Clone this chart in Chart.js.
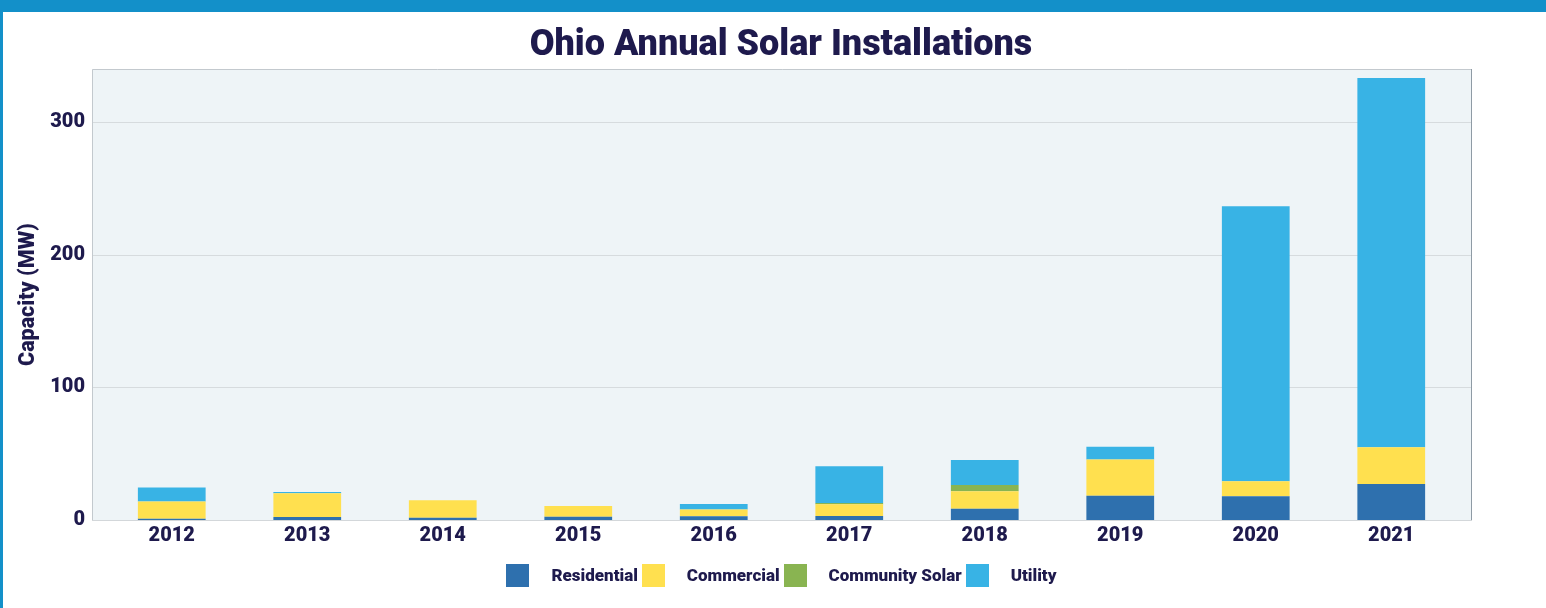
<!DOCTYPE html>
<html>
<head>
<meta charset="utf-8">
<title>Ohio Annual Solar Installations</title>
<script src="https://cdn.jsdelivr.net/npm/chart.js@4.4.1/dist/chart.umd.min.js"></script>
<style>
  html, body { margin: 0; padding: 0; background: #fff; }
  #frame {
    position: absolute; left: 0; top: 0;
    width: 1546px; height: 608px; box-sizing: border-box;
    border-top: 12px solid #1390c9; border-left: 3px solid #1390c9;
  }
  #wrap { position: relative; width: 1543px; height: 596px; }
</style>
</head>
<body>
<div id="frame"><div id="wrap"><canvas id="solarChart"></canvas></div></div>
<script>
const years = ['2012', '2013', '2014', '2015', '2016', '2017', '2018', '2019', '2020', '2021'];
const residential    = [1, 2.2, 1.7, 2.5, 2.8, 3, 8.5, 18.3, 17.9, 27.1];
const commercial     = [13, 18, 13.1, 8, 5.2, 8.8, 13.1, 27.4, 11.3, 27.7];
const communitySolar = [0, 0, 0, 0, 0, 1, 4.8, 0, 0, 0];
const utility        = [10.5, 1, 0, 0, 4, 27.7, 18.8, 9.5, 207.4, 278.5];
const yTicks = [0, 100, 200, 300];

const navy = '#1e1a4d';

// light plot box + grid lines, a bit wider than the category area
const plotBackground = {
    id: 'plotBackground',
    beforeDraw(chart) {
        const {ctx, chartArea: a, scales: {y}} = chart;
        const left = a.left - 12, right = a.right + 13;
        ctx.save();
        ctx.fillStyle = '#eef4f7';
        ctx.fillRect(left, a.top, right - left, a.bottom - a.top);
        ctx.lineWidth = 1;
        ctx.strokeStyle = '#d6dbde';
        yTicks.forEach(v => {
            if (v === 0) return;
            const py = Math.round(y.getPixelForValue(v)) + 0.5;
            ctx.beginPath(); ctx.moveTo(left, py); ctx.lineTo(right, py); ctx.stroke();
        });
        ctx.strokeStyle = '#c3c9ce';
        ctx.beginPath(); ctx.moveTo(left + 0.5, a.bottom); ctx.lineTo(left + 0.5, a.top + 0.5); ctx.lineTo(right, a.top + 0.5); ctx.stroke();
        ctx.strokeStyle = '#8f9ba5';
        ctx.beginPath(); ctx.moveTo(right - 0.5, a.top); ctx.lineTo(right - 0.5, a.bottom); ctx.stroke();
        ctx.strokeStyle = '#d3d7da';
        ctx.beginPath(); ctx.moveTo(left, a.bottom + 0.5); ctx.lineTo(right, a.bottom + 0.5); ctx.stroke();
        ctx.restore();
    }
};

// legend row under the axis
const legendRow = {
    id: 'legendRow',
    afterDraw(chart) {
        const ctx = chart.ctx;
        const boxW = 23, boxH = 23, gapBox = 22, gapItem = 4;
        const centerY = 563.5;
        ctx.save();
        ctx.font = '900 17px Roboto';
        ctx.textBaseline = 'middle';
        ctx.textAlign = 'left';
        const items = chart.data.datasets.map(ds => ({
            label: ds.label, color: ds.backgroundColor, w: ctx.measureText(ds.label).width
        }));
        const total = items.reduce((s, it) => s + boxW + gapBox + it.w, 0) + gapItem * (items.length - 1);
        let x = (chart.chartArea.left + chart.chartArea.right) / 2 - total / 2;
        items.forEach(it => {
            ctx.fillStyle = it.color;
            ctx.fillRect(Math.round(x), Math.round(centerY - boxH / 2), boxW, boxH);
            x += boxW + gapBox;
            ctx.fillStyle = navy;
            ctx.fillText(it.label, x, centerY + 1);
            x += it.w + gapItem;
        });
        ctx.restore();
    }
};

const tickFont = {family: 'Roboto', size: 20, weight: '900'};

var ctx = document.getElementById('solarChart').getContext('2d');
var solarChart = new Chart(ctx, {
    type: 'bar',
    data: {
        labels: years,
        datasets: [
            {label: 'Residential', data: residential, backgroundColor: '#2e70ae'},
            {label: 'Commercial', data: commercial, backgroundColor: '#ffe04f'},
            {label: 'Community Solar', data: communitySolar, backgroundColor: '#89b451'},
            {label: 'Utility', data: utility, backgroundColor: '#38b3e5'}
        ]
    },
    options: {
        responsive: true,
        maintainAspectRatio: false,
        animation: false,
        datasets: {
            bar: {barPercentage: 1, categoryPercentage: 0.5, borderWidth: 0}
        },
        layout: {padding: {left: 13, right: 0, top: 0, bottom: 58}},
        plugins: {
            legend: {display: false},
            tooltip: {enabled: false},
            title: {
                display: true,
                text: 'Ohio Annual Solar Installations',
                color: navy,
                font: {family: 'Roboto', size: 36, weight: '900'},
                padding: {top: 12, bottom: 1.8}
            }
        },
        scales: {
            x: {
                stacked: true,
                grid: {display: false, drawTicks: false},
                border: {display: false},
                ticks: {color: navy, font: tickFont, padding: 4},
                afterFit: s => { s.height = 30; }
            },
            y: {
                stacked: true,
                min: 0,
                max: 340,
                grid: {display: false, drawTicks: false},
                border: {display: false},
                ticks: {color: navy, font: tickFont, padding: 19},
                afterBuildTicks: s => { s.ticks = yTicks.map(v => ({value: v})); },
                afterFit: s => { s.width = 88; },
                title: {
                    display: true,
                    text: 'Capacity (MW)',
                    color: navy,
                    font: {family: 'Roboto', size: 21.5, weight: '900'},
                    padding: {top: 0, bottom: 0}
                }
            },
            // empty right-hand space
            yRight: {
                position: 'right',
                display: true,
                grid: {display: false, drawTicks: false},
                border: {display: false},
                ticks: {display: false},
                afterFit: s => { s.width = 87; }
            }
        }
    },
    plugins: [plotBackground, legendRow]
});
</script>
</body>
</html>
